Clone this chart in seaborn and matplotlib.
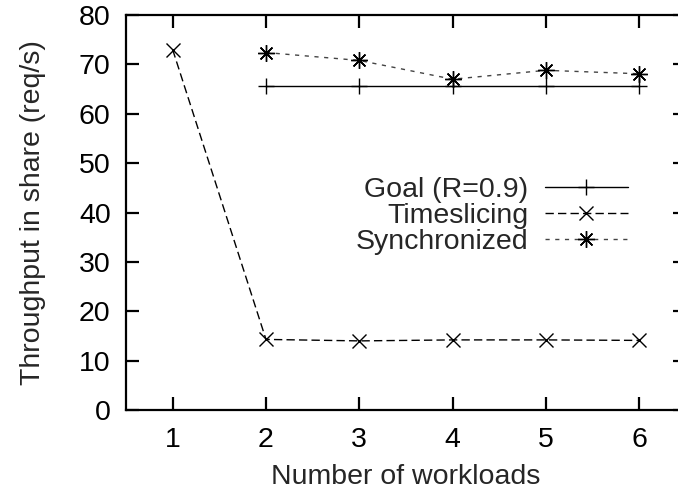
import matplotlib
matplotlib.use("Agg")
import matplotlib.pyplot as plt
import seaborn as sns
import pandas as pd

# Number of concurrent workloads
workloads = [1, 2, 3, 4, 5, 6]

# Throughput in share (req/s) per scheduling scheme
goal_x = [2, 3, 4, 5, 6]
goal_y = [65.7, 65.7, 65.7, 65.7, 65.7]
timeslicing_y = [73.0, 14.3, 14.0, 14.2, 14.2, 14.1]
sync_x = [2, 3, 4, 5, 6]
sync_y = [72.4, 70.8, 67.0, 68.8, 68.1]

x_ticks = [1, 2, 3, 4, 5, 6]
y_ticks = [0, 10, 20, 30, 40, 50, 60, 70, 80]

sns.set_theme(style="ticks")
plt.rcParams["font.family"] = ["Liberation Sans", "DejaVu Sans"]

FS = 20.5

fig = plt.figure(figsize=(6.78, 4.97), dpi=100)
ax = fig.add_axes([0.1858, 0.175, 0.826, 0.7948])

goal_df = pd.DataFrame({"x": goal_x, "y": goal_y})
ts_df = pd.DataFrame({"x": workloads, "y": timeslicing_y})
sync_df = pd.DataFrame({"x": sync_x, "y": sync_y})

sns.lineplot(data=goal_df, x="x", y="y", ax=ax, color="black", lw=1.0,
             marker="+", markersize=12, markeredgewidth=1.0,
             markeredgecolor="black", label="Goal (R=0.9)")
sns.lineplot(data=ts_df, x="x", y="y", ax=ax, color="black", lw=1.0,
             marker="x", markersize=10, markeredgewidth=1.0,
             markeredgecolor="black", label="Timeslicing")
sns.lineplot(data=sync_df, x="x", y="y", ax=ax, color="#444444",
             lw=1.0, marker=(8, 2, 0), markersize=12,
             markeredgewidth=1.0, markeredgecolor="black",
             label="Synchronized")

lines = ax.get_lines()
lines[0].set_linestyle("-")
lines[1].set_dashes([6, 3])
lines[2].set_dashes([3, 4])

ax.set_xlim(0.5, 6.5)
ax.set_ylim(0, 80)
ax.set_xticks(x_ticks)
ax.set_yticks(y_ticks)
ax.tick_params(direction="in", length=9.5, width=1.6, labelsize=FS,
               top=True, right=True, pad=11, colors="black")
ax.tick_params(axis="x", pad=12)
for side in ax.spines.values():
    side.set_linewidth(1.6)
    side.set_color("black")

ax.set_xlabel("Number of workloads", fontsize=FS, labelpad=8)
ax.set_ylabel("Throughput in share (req/s)", fontsize=FS, labelpad=24)

leg = ax.legend(loc="center right", bbox_to_anchor=(0.896, 0.492),
                frameon=False, markerfirst=False, fontsize=FS,
                handlelength=2.9, handletextpad=0.6, labelspacing=0.0,
                borderaxespad=0, borderpad=0)
for t in leg.get_texts():
    t.set_ha("right")
leg._legend_box.align = "right"

fig.savefig("out.png", dpi=100)
